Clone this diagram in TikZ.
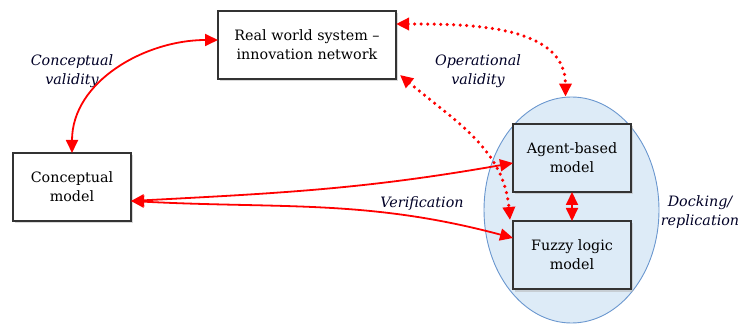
\documentclass[tikz,border=0pt]{standalone}
\usepackage{fontspec}
\setmainfont{DejaVu Serif}
\usetikzlibrary{arrows.meta,shapes.geometric,shadows}
\definecolor{arrred}{HTML}{FF0000}
\definecolor{ellfill}{HTML}{DDEBF7}
\definecolor{elldraw}{HTML}{6A97CF}
\begin{document}
\begin{tikzpicture}[x=1pt,y=1pt,
  box/.style={draw=black!80,line width=1.3pt,fill=white,minimum width=118pt,minimum height=68pt,
    align=center,font=\fontsize{14.3}{19}\selectfont,inner sep=2pt,outer sep=0pt,
    drop shadow={shadow xshift=2pt,shadow yshift=-2.5pt,fill=black!30,opacity=0.5}},
  lbl/.style={font=\fontsize{14.3}{19}\selectfont\itshape,align=center,text=black!85!blue},
  redarrow/.style={draw=arrred,line width=1.8pt,>={Triangle[length=13pt,width=12pt]},<->},
  dotarrow/.style={redarrow,line width=3.5pt,dash pattern=on 0pt off 6.5pt,line cap=round}
]
\useasboundingbox (0,0) rectangle (749,324);
\node[ellipse,draw=elldraw,line width=0.9pt,fill=ellfill,minimum width=175pt,minimum height=226pt,inner sep=0pt] (el) at (571.5,114) {};
\node[box,minimum width=178pt] (rw) at (307,279) {Real world system --\\innovation network};
\node[box] (cm) at (72,137) {Conceptual\\model};
\node[box,fill=ellfill] (ab) at (572,166) {Agent-based\\model};
\node[box,fill=ellfill] (fl) at (572,69) {Fuzzy logic\\model};
\node[lbl] (lcv) at (72,253) {Conceptual\\validity};
\node[lbl] (lov) at (478,253) {Operational\\validity};
\node[lbl] (lver) at (422,120) {Verification};
\node[lbl] (ldock) at (700,112) {Docking/\\replication};
\draw[redarrow] (cm.north) to[out=90,in=180] ([yshift=5pt]rw.west);
\draw[dotarrow] ([yshift=21pt]rw.east) to[out=0,in=90] ([xshift=-6pt]el.north);
\draw[dotarrow] ([xshift=4pt,yshift=4pt]rw.south east) to[out=-40,in=95] ([xshift=-3pt,yshift=1pt]fl.north west);
\draw[redarrow] ([yshift=-14pt]cm.east) to[out=3,in=190] ([yshift=-5pt]ab.west);
\draw[redarrow] ([yshift=-14pt]cm.east) to[out=-3,in=165] ([yshift=17pt]fl.west);
\draw[redarrow] (ab.south) -- (fl.north);
\end{tikzpicture}
\end{document}
